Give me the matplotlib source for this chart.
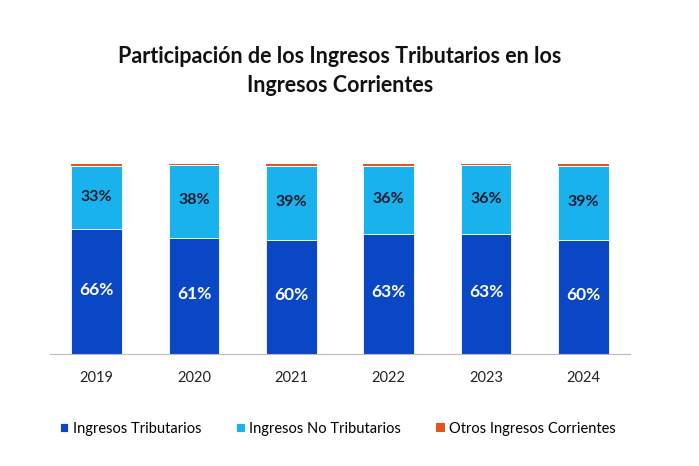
import numpy as np
import matplotlib
matplotlib.use("Agg")
import matplotlib.pyplot as plt

years = ["2019", "2020", "2021", "2022", "2023", "2024"]
tributarios = [65.8, 61.2, 59.8, 63.1, 63.2, 60.1]
no_tributarios = [33.0, 38.2, 38.9, 36.1, 36.1, 39.0]
otros = [1.2, 0.6, 1.3, 0.8, 0.7, 0.9]

c_trib = "#0A47C4"
c_notrib = "#19B2EC"
c_otros = "#E2561E"

plt.rcParams['font.family'] = ['Lato', 'DejaVu Sans']

fig = plt.figure(figsize=(6.99, 4.66), dpi=100)
ax = fig.add_axes([50 / 699, 1 - 354 / 466, 580 / 699, 190 / 466])

x = np.arange(len(years))
w = 0.52
b1 = ax.bar(x, tributarios, w, color=c_trib, edgecolor="white", linewidth=0.6,
            label="Ingresos Tributarios")
b2 = ax.bar(x, no_tributarios, w, bottom=tributarios, color=c_notrib,
            edgecolor="white", linewidth=0.6, label="Ingresos No Tributarios")
bottom3 = [a + b for a, b in zip(tributarios, no_tributarios)]
b3 = ax.bar(x, otros, w, bottom=bottom3, color=c_otros, linewidth=0,
            label="Otros Ingresos Corrientes")

for i in range(len(years)):
    ax.text(x[i], tributarios[i] / 2 + 1, f"{round(tributarios[i])}%", ha="center",
            va="center", color="white", fontsize=12.5, fontweight="bold")
    ax.text(x[i], tributarios[i] + no_tributarios[i] / 2 + 0.5, f"{round(no_tributarios[i])}%",
            ha="center", va="center", color="#1a1a2e", fontsize=11.5, fontweight="bold")

ax.set_xlim(-0.48, len(years) - 0.52)
ax.set_ylim(0, 100)
ax.set_xticks(x)
ax.set_xticklabels(years, fontsize=10.5, color="#222222")
ax.tick_params(axis="x", length=0, pad=12)
ax.set_yticks([])
for s in ["top", "right", "left"]:
    ax.spines[s].set_visible(False)
ax.spines["bottom"].set_color("#bbbbbb")

fig.text(340 / 699, 1 - 71 / 466, "Participación de los Ingresos Tributarios en los\nIngresos Corrientes",
         ha="center", va="center", fontsize=15.5, fontweight="bold", color="#111111",
         linespacing=1.45)

fig.legend(handles=[b1, b2, b3], loc="center", bbox_to_anchor=(338 / 699, 1 - 429 / 466),
           ncol=3, frameon=False, fontsize=10.5, handlelength=0.6, handleheight=0.6,
           handletextpad=0.3, columnspacing=2.4)

fig.savefig("out.png", dpi=100)
